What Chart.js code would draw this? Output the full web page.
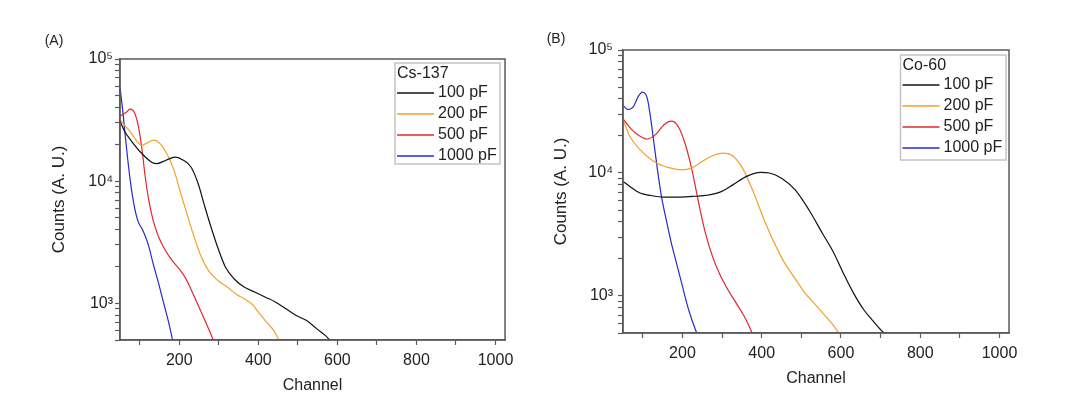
<!DOCTYPE html>
<html>
<head>
<meta charset="utf-8">
<title>Cs-137 / Co-60 spectra</title>
<script src="https://cdn.jsdelivr.net/npm/chart.js@4.4.1/dist/chart.umd.min.js"></script>
<style>
    html, body { margin: 0; padding: 0; background: #fff; }
    #wrap { position: relative; width: 1079px; height: 406px; overflow: hidden; }
    canvas { position: absolute; top: 0; }
    #chartA { left: 0; }
    #chartB { left: 540px; }
</style>
</head>
<body>
<div id="wrap">
    <canvas id="chartA" width="540" height="406"></canvas>
    <canvas id="chartB" width="539" height="406"></canvas>
</div>
<script>
// Series labels and colours
var capLabels = ['100 pF', '200 pF', '500 pF', '1000 pF'];
var capColors = ['#111111', '#F0A22E', '#E2272F', '#2828D0'];

// Axis ticks
var xTicks = [100, 200, 300, 400, 500, 600, 700, 800, 900, 1000];
var xLabelled = [200, 400, 600, 800, 1000];
var yDecades = [1000, 10000, 100000];
var yMinorSteps = [2, 3, 4, 5, 6, 7, 8, 9];

// (A) Cs-137 spectra
var csCh100 = [50, 62, 78, 104, 130, 143, 160, 174, 191, 209, 230, 248, 265, 283, 300, 317, 339, 365, 392, 418, 444, 470, 496, 522, 548, 570, 585];
var cs100 = [31000, 25500, 21500, 17000, 14300, 13900, 14500, 15200, 15700, 14900, 13000, 9480, 6110, 3940, 2700, 1970, 1580, 1350, 1230, 1120, 1020, 900, 793, 721, 617, 543, 480];
var csCh200 = [50, 62, 74, 85, 95, 104, 117, 135, 152, 169, 187, 204, 222, 239, 256, 274, 296, 322, 348, 360, 374, 387, 400, 422, 439, 455];
var cs200 = [31800, 28500, 25900, 23000, 20800, 19600, 20400, 21700, 20200, 16700, 12200, 7850, 5060, 3370, 2380, 1850, 1550, 1350, 1160, 1110, 1040, 960, 844, 693, 597, 480];
var csCh500 = [50, 65, 76, 88, 97, 106, 114, 123, 134, 148, 165, 182, 200, 217, 235, 250, 265, 278, 288];
var cs500 = [34000, 36500, 38800, 35500, 27600, 17800, 10700, 6920, 4750, 3470, 2700, 2230, 1910, 1580, 1190, 927, 721, 579, 480];
var csCh1000 = [50, 56, 62, 69, 76, 85, 95, 108, 121, 134, 148, 161, 174, 184];
var cs1000 = [58600, 40200, 25900, 15700, 10100, 6500, 4750, 3940, 3060, 2100, 1440, 988, 678, 480];

// (B) Co-60 spectra
var coCh100 = [50, 67, 93, 119, 154, 189, 224, 258, 293, 328, 362, 397, 419, 449, 484, 519, 553, 580, 606, 632, 658, 679, 701, 716];
var co100 = [8550, 7780, 6870, 6570, 6370, 6370, 6450, 6570, 6950, 8040, 9390, 10100, 10000, 9100, 7310, 5020, 3240, 2300, 1530, 1050, 769, 637, 528, 480];
var coCh200 = [50, 67, 93, 128, 163, 198, 224, 250, 276, 302, 328, 354, 380, 406, 432, 458, 484, 510, 536, 562, 580, 598];
var co200 = [27200, 19900, 15500, 12400, 11100, 10600, 11000, 12400, 13800, 14500, 13700, 10600, 6870, 4170, 2690, 1850, 1390, 1050, 845, 679, 581, 480];
var coCh500 = [50, 72, 93, 111, 132, 154, 172, 189, 206, 224, 241, 258, 276, 293, 315, 336, 354, 367, 378];
var co500 = [27500, 22500, 19900, 18900, 20500, 24800, 26400, 24000, 17600, 10600, 5690, 3240, 2090, 1530, 1120, 871, 700, 581, 480];
var coCh1000 = [50, 63, 76, 89, 99, 111, 119, 128, 137, 147, 159, 172, 185, 198, 211, 224, 238];
var co1000 = [35400, 32800, 34500, 42200, 45500, 40800, 29000, 17600, 10600, 6450, 4170, 2690, 1850, 1270, 871, 637, 480];

Chart.defaults.font.family = '"Liberation Sans", Arial, sans-serif';
Chart.defaults.color = '#222';

var SUP = {'0': '\u2070', '1': '\u00B9', '2': '\u00B2', '3': '\u00B3', '4': '\u2074', '5': '\u2075'};
var AXIS_COLOR = '#5a5a5a';

// Draws top and right sides of the plot frame
var framePlugin = {
    id: 'frame',
    afterDraw: function(chart) {
        var a = chart.chartArea, ctx = chart.ctx;
        ctx.save();
        ctx.strokeStyle = AXIS_COLOR;
        ctx.lineWidth = 1.5;
        ctx.strokeRect(a.left, a.top, a.right - a.left, a.bottom - a.top);
        ctx.restore();
    }
};

// Boxed legend in the upper right corner of the plot
var boxLegendPlugin = {
    id: 'boxLegend',
    afterDraw: function(chart, args, opts) {
        var a = chart.chartArea, ctx = chart.ctx;
        var x0 = a.right - opts.offsetRight, y0 = a.top + opts.offsetTop;
        ctx.save();
        ctx.fillStyle = '#fff';
        ctx.fillRect(x0, y0, opts.width, opts.height);
        ctx.strokeStyle = '#c4c4c4';
        ctx.lineWidth = 1.5;
        ctx.strokeRect(x0, y0, opts.width, opts.height);
        ctx.font = '16px "Liberation Sans", Arial, sans-serif';
        ctx.fillStyle = '#222';
        ctx.textBaseline = 'middle';
        ctx.textAlign = 'left';
        ctx.fillText(opts.title, x0 + 2, y0 + 10.5);
        chart.data.datasets.forEach(function(ds, i) {
            var y = y0 + 30 + i * 21;
            ctx.strokeStyle = ds.borderColor;
            ctx.lineWidth = 1.3;
            ctx.beginPath();
            ctx.moveTo(x0 + 2, y);
            ctx.lineTo(x0 + 39, y);
            ctx.stroke();
            ctx.fillText(ds.label, x0 + 43, y);
        });
        ctx.restore();
    }
};

// Panel letter, e.g. (A)
var panelTagPlugin = {
    id: 'panelTag',
    afterDraw: function(chart, args, opts) {
        var ctx = chart.ctx;
        ctx.save();
        ctx.font = '14px "Liberation Sans", Arial, sans-serif';
        ctx.fillStyle = '#222';
        ctx.textAlign = 'center';
        ctx.textBaseline = 'middle';
        ctx.fillText(opts.text, opts.x, opts.y);
        ctx.restore();
    }
};

function toPoints(ch, counts) {
    return ch.map(function(c, i) { return {x: c, y: counts[i]}; });
}

function yTickValues() {
    var vals = [500, 600, 700, 800, 900];
    yDecades.forEach(function(d) {
        vals.push(d);
        if (d < 100000) {
            yMinorSteps.forEach(function(m) { vals.push(m * d); });
        }
    });
    return vals;
}

function buildChart(canvasId, layout) {
    var datasets = layout.series.map(function(s, i) {
        return {
            label: capLabels[i],
            data: toPoints(s[0], s[1]),
            borderColor: capColors[i],
            borderWidth: 1.2,
            pointRadius: 0,
            fill: false,
            cubicInterpolationMode: 'monotone'
        };
    });

    var tickGrid = {
        display: true,
        drawOnChartArea: false,
        drawTicks: true,
        tickLength: 5,
        tickColor: AXIS_COLOR,
        tickWidth: 1.2
    };

    var config = {
        type: 'line',
        data: {datasets: datasets},
        options: {
            responsive: false,
            animation: false,
            layout: {padding: layout.padding},
            plugins: {
                legend: {display: false},
                tooltip: {enabled: false},
                boxLegend: layout.legend,
                panelTag: layout.tag
            },
            scales: {
                x: {
                    type: 'linear',
                    min: 50,
                    max: 1024,
                    afterBuildTicks: function(scale) {
                        scale.ticks = xTicks.map(function(v) { return {value: v}; });
                    },
                    afterFit: function(scale) { scale.height = layout.xHeight; },
                    ticks: {
                        autoSkip: false,
                        maxRotation: 0,
                        padding: 6,
                        font: {size: 16},
                        color: '#222',
                        callback: function(v) { return xLabelled.indexOf(v) >= 0 ? String(v) : ''; }
                    },
                    grid: tickGrid,
                    border: {display: true, color: AXIS_COLOR, width: 1.5},
                    title: {
                        display: true,
                        text: 'Channel',
                        font: {size: 16},
                        color: '#222',
                        padding: {top: 0, bottom: layout.xTitlePad}
                    }
                },
                y: {
                    type: 'logarithmic',
                    min: 500,
                    max: 100000,
                    afterBuildTicks: function(scale) {
                        scale.ticks = yTickValues().map(function(v) { return {value: v}; });
                    },
                    afterFit: function(scale) { scale.width = layout.yWidth; },
                    ticks: {
                        autoSkip: false,
                        padding: layout.yTickPad,
                        font: {size: 16},
                        color: '#222',
                        callback: function(v) {
                            var i = yDecades.indexOf(v);
                            if (i < 0) { return ''; }
                            return '10' + SUP[String(Math.round(Math.log10(v)))];
                        }
                    },
                    grid: tickGrid,
                    border: {display: true, color: AXIS_COLOR, width: 1.5},
                    title: {
                        display: true,
                        text: 'Counts (A. U.)',
                        font: {size: 17},
                        color: '#222',
                        padding: {top: layout.yTitlePad, bottom: 0}
                    }
                }
            }
        },
        plugins: [framePlugin, boxLegendPlugin, panelTagPlugin]
    };

    return new Chart(document.getElementById(canvasId).getContext('2d'), config);
}

buildChart('chartA', {
    series: [[csCh100, cs100], [csCh200, cs200], [csCh500, cs500], [csCh1000, cs1000]],
    padding: {left: 44, top: 59, right: 35, bottom: 0},
    xHeight: 66,
    yWidth: 76,
    xTitlePad: 11,
    yTitlePad: 5,
    yTickPad: 2,
    legend: {title: 'Cs-137', offsetRight: 110, offsetTop: 4, width: 105, height: 101},
    tag: {text: '(A)', x: 54, y: 41}
});

buildChart('chartB', {
    series: [[coCh100, co100], [coCh200, co200], [coCh500, co500], [coCh1000, co1000]],
    padding: {left: 5, top: 50, right: 70, bottom: 0},
    xHeight: 73,
    yWidth: 78,
    xTitlePad: 18,
    yTitlePad: 6,
    yTickPad: 5,
    legend: {title: 'Co-60', offsetRight: 108.5, offsetTop: 5, width: 105.5, height: 105},
    tag: {text: '(B)', x: 16, y: 39}
});
</script>
</body>
</html>
